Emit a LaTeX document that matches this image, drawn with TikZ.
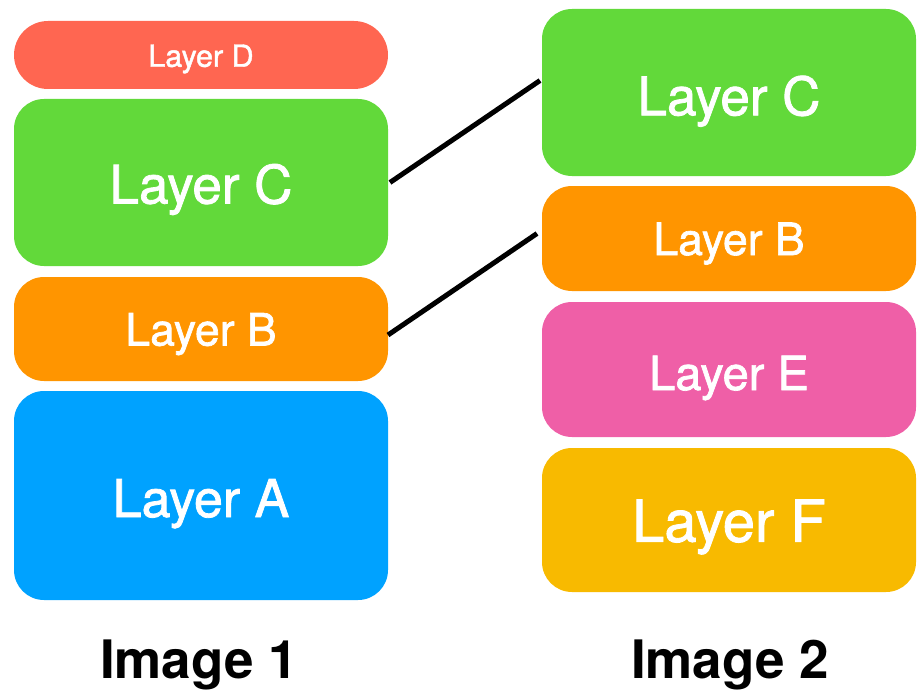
\documentclass[tikz,border=0pt]{standalone}
\usepackage{fontspec}
\setmainfont{TeX Gyre Heros}
\newfontfamily\layerfont[FakeBold=1.5]{TeX Gyre Heros}
\usetikzlibrary{calc}
\definecolor{cRed}{HTML}{FF6651}
\definecolor{cGreen}{HTML}{62D93A}
\definecolor{cOrange}{HTML}{FF9500}
\definecolor{cBlue}{HTML}{00A2FF}
\definecolor{cPink}{HTML}{EF5FA7}
\definecolor{cYellow}{HTML}{F8BA00}
\begin{document}
\begin{tikzpicture}[x=1pt,y=-1pt,
  layerbox/.style={rounded corners=30pt, inner sep=0pt, outer sep=0pt,
    minimum width=374pt, text=white, text depth=0pt},
  fsD/.style={font=\layerfont\fontsize{30.5}{34}\selectfont, text height=23.5pt},
  fsB/.style={font=\layerfont\fontsize{44.5}{50}\selectfont, text height=33pt},
  fsE/.style={font=\layerfont\fontsize{47}{52}\selectfont, text height=41pt},
  fsA/.style={font=\layerfont\fontsize{52}{58}\selectfont, text height=43pt},
  fsC/.style={font=\layerfont\fontsize{53}{60}\selectfont, text height=42pt},
  fsF/.style={font=\layerfont\fontsize{58}{64}\selectfont, text height=43.5pt},
  title/.style={font=\bfseries\fontsize{53}{60}\selectfont, anchor=base, inner sep=0pt},
  link/.style={line width=5pt}]
\useasboundingbox (0,0) rectangle (917,690);
% Image 1
\node[layerbox, fsD, rounded corners=34pt, fill=cRed, minimum height=68pt] (d1) at (201,55) {Layer D};
\node[layerbox, fsC, fill=cGreen, minimum height=167pt] (c1) at (201,182.5) {Layer C};
\node[layerbox, fsB, fill=cOrange, minimum height=104pt] (b1) at (201,329) {Layer B};
\node[layerbox, fsA, fill=cBlue, minimum height=209pt] (a1) at (201,495.5) {Layer A};
% Image 2
\node[layerbox, fsC, text height=45.5pt, fill=cGreen, minimum height=167pt] (c2) at (729,92.5) {Layer C};
\node[layerbox, fsB, fill=cOrange, minimum height=105pt] (b2) at (729,238.5) {Layer B};
\node[layerbox, fsE, fill=cPink, minimum height=135pt] (e2) at (729,369.5) {Layer E};
\node[layerbox, fsF, fill=cYellow, minimum height=144pt] (f2) at (729,520) {Layer F};
% titles
\node[title] (t1) at (199,678) {Image 1};
\node[title] (t2) at (730,678) {Image 2};
% links
\draw[link] ($(c1.east)+(2,0)$) -- ($(c2.west)+(-2,-12)$);
\draw[link] ($(b1.east)+(0,6)$) -- ($(b2.west)+(-5,-5)$);
\end{tikzpicture}
\end{document}
